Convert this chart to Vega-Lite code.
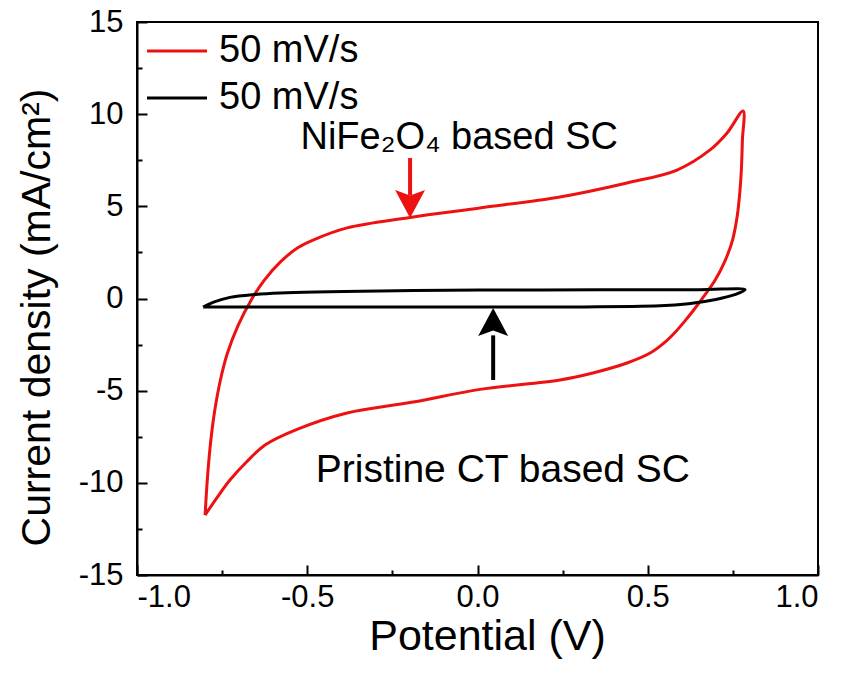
{
  "$schema": "https://vega.github.io/schema/vega-lite/v6.json",
  "width": 681,
  "height": 553,
  "autosize": {"type": "none"},
  "padding": {"left": 137, "top": 22, "right": 23, "bottom": 98},
  "background": "white",
  "config": {
    "view": {"stroke": "black", "strokeWidth": 2},
    "font": "Liberation Sans",
    "axis": {"grid": false, "domainColor": "black", "domainWidth": 2, "tickColor": "black", "tickWidth": 2, "labelColor": "black", "titleColor": "black", "labelFont": "Liberation Sans", "titleFont": "Liberation Sans", "titleFontWeight": "normal"}
  },
  "datasets": {
    "curves": [
      {"series": "NiFe2O4", "i": 1, "v": -0.800, "j": -11.75},
      {"series": "NiFe2O4", "i": 2, "v": -0.796, "j": -10.5},
      {"series": "NiFe2O4", "i": 3, "v": -0.790, "j": -9.0},
      {"series": "NiFe2O4", "i": 4, "v": -0.782, "j": -7.5},
      {"series": "NiFe2O4", "i": 5, "v": -0.771, "j": -6.0},
      {"series": "NiFe2O4", "i": 6, "v": -0.756, "j": -4.5},
      {"series": "NiFe2O4", "i": 7, "v": -0.735, "j": -3.0},
      {"series": "NiFe2O4", "i": 8, "v": -0.704, "j": -1.5},
      {"series": "NiFe2O4", "i": 9, "v": -0.662, "j": 0.0},
      {"series": "NiFe2O4", "i": 10, "v": -0.626, "j": 1.0},
      {"series": "NiFe2O4", "i": 11, "v": -0.578, "j": 2.0},
      {"series": "NiFe2O4", "i": 12, "v": -0.528, "j": 2.75},
      {"series": "NiFe2O4", "i": 13, "v": -0.483, "j": 3.17},
      {"series": "NiFe2O4", "i": 14, "v": -0.383, "j": 3.83},
      {"series": "NiFe2O4", "i": 15, "v": -0.198, "j": 4.40},
      {"series": "NiFe2O4", "i": 16, "v": 0.007, "j": 4.91},
      {"series": "NiFe2O4", "i": 17, "v": 0.242, "j": 5.51},
      {"series": "NiFe2O4", "i": 18, "v": 0.439, "j": 6.27},
      {"series": "NiFe2O4", "i": 19, "v": 0.586, "j": 6.97},
      {"series": "NiFe2O4", "i": 20, "v": 0.683, "j": 8.06},
      {"series": "NiFe2O4", "i": 21, "v": 0.733, "j": 8.98},
      {"series": "NiFe2O4", "i": 22, "v": 0.780, "j": 10.17},
      {"series": "NiFe2O4", "i": 23, "v": 0.778, "j": 8.6},
      {"series": "NiFe2O4", "i": 24, "v": 0.775, "j": 7.0},
      {"series": "NiFe2O4", "i": 25, "v": 0.771, "j": 5.9},
      {"series": "NiFe2O4", "i": 26, "v": 0.763, "j": 4.5},
      {"series": "NiFe2O4", "i": 27, "v": 0.749, "j": 3.17},
      {"series": "NiFe2O4", "i": 28, "v": 0.726, "j": 2.0},
      {"series": "NiFe2O4", "i": 29, "v": 0.698, "j": 1.0},
      {"series": "NiFe2O4", "i": 30, "v": 0.670, "j": 0.25},
      {"series": "NiFe2O4", "i": 31, "v": 0.640, "j": -0.5},
      {"series": "NiFe2O4", "i": 32, "v": 0.610, "j": -1.2},
      {"series": "NiFe2O4", "i": 33, "v": 0.582, "j": -1.8},
      {"series": "NiFe2O4", "i": 34, "v": 0.555, "j": -2.3},
      {"series": "NiFe2O4", "i": 35, "v": 0.507, "j": -2.96},
      {"series": "NiFe2O4", "i": 36, "v": 0.439, "j": -3.50},
      {"series": "NiFe2O4", "i": 37, "v": 0.339, "j": -4.04},
      {"series": "NiFe2O4", "i": 38, "v": 0.242, "j": -4.42},
      {"series": "NiFe2O4", "i": 39, "v": 0.007, "j": -4.93},
      {"series": "NiFe2O4", "i": 40, "v": -0.189, "j": -5.62},
      {"series": "NiFe2O4", "i": 41, "v": -0.383, "j": -6.21},
      {"series": "NiFe2O4", "i": 42, "v": -0.530, "j": -7.10},
      {"series": "NiFe2O4", "i": 43, "v": -0.624, "j": -7.95},
      {"series": "NiFe2O4", "i": 44, "v": -0.680, "j": -8.90},
      {"series": "NiFe2O4", "i": 45, "v": -0.727, "j": -9.85},
      {"series": "NiFe2O4", "i": 46, "v": -0.765, "j": -10.80},
      {"series": "NiFe2O4", "i": 47, "v": -0.800, "j": -11.75},
      {"series": "CT", "i": 1, "v": -0.806, "j": -0.46},
      {"series": "CT", "i": 2, "v": -0.775, "j": -0.20},
      {"series": "CT", "i": 3, "v": -0.727, "j": 0.06},
      {"series": "CT", "i": 4, "v": -0.653, "j": 0.22},
      {"series": "CT", "i": 5, "v": -0.580, "j": 0.30},
      {"series": "CT", "i": 6, "v": -0.286, "j": 0.41},
      {"series": "CT", "i": 7, "v": 0.007, "j": 0.46},
      {"series": "CT", "i": 8, "v": 0.360, "j": 0.47},
      {"series": "CT", "i": 9, "v": 0.653, "j": 0.48},
      {"series": "CT", "i": 10, "v": 0.786, "j": 0.48},
      {"series": "CT", "i": 11, "v": 0.758, "j": 0.22},
      {"series": "CT", "i": 12, "v": 0.700, "j": -0.05},
      {"series": "CT", "i": 13, "v": 0.620, "j": -0.28},
      {"series": "CT", "i": 14, "v": 0.536, "j": -0.40},
      {"series": "CT", "i": 15, "v": 0.242, "j": -0.46},
      {"series": "CT", "i": 16, "v": -0.228, "j": -0.46},
      {"series": "CT", "i": 17, "v": -0.580, "j": -0.46},
      {"series": "CT", "i": 18, "v": -0.806, "j": -0.46}
    ],
    "arrows": [
      {"series": "NiFe2O4", "x": -0.198, "ytop": 7.62, "ybot": 5.6, "tip": 4.37, "dir": "down"},
      {"series": "CT", "x": 0.046, "ytop": -2.0, "ybot": -4.42, "tip": -0.52, "dir": "up"}
    ],
    "labels": [
      {"txt": "NiFe₂O₄ based SC", "x": -0.52, "y": 8.11},
      {"txt": "Pristine CT based SC", "x": -0.475, "y": -9.96}
    ]
  },
  "resolve": {"axis": {"x": "independent", "y": "independent"}},
  "layer": [
    {
      "data": {"name": "curves"},
      "mark": {"type": "line", "strokeWidth": 3, "interpolate": "catmull-rom"},
      "encoding": {
        "x": {"field": "v", "type": "quantitative", "scale": {"domain": [-1, 1], "nice": false, "zero": false},
          "axis": {"orient": "bottom", "values": [-1, -0.5, 0, 0.5, 1], "format": ".1f", "labelExpr": "replace(datum.label, '−', '-')", "ticks": false, "tickSize": 0, "labelFontSize": 31, "labelPadding": 7, "title": "Potential (V)", "titleFontSize": 43, "titlePadding": 3, "titleX": 350}},
        "y": {"field": "j", "type": "quantitative", "scale": {"domain": [-15, 15], "nice": false, "zero": false},
          "axis": {"orient": "left", "values": [-15, -10, -5, 0, 5, 10, 15], "labelExpr": "replace(datum.label, '−', '-')", "ticks": false, "tickSize": 0, "labelFontSize": 31, "labelPadding": 14, "title": "Current density (mA/cm²)", "titleFontSize": 41, "titlePadding": 20, "titleY": 295}},
        "color": {"field": "series", "type": "nominal",
          "scale": {"domain": ["NiFe2O4", "CT"], "range": ["#ee1111", "#000000"]},
          "legend": {"orient": "none", "legendX": 1, "legendY": 10, "title": null, "symbolType": "M-1,0 L5,0", "symbolSize": 400, "symbolStrokeWidth": 3, "symbolFillColor": "transparent", "labelFontSize": 38, "labelFont": "Liberation Sans", "labelColor": "black", "labelOffset": 43, "rowPadding": 9, "labelExpr": "'50 mV/s'"}},
        "detail": {"field": "series"},
        "order": {"field": "i", "type": "quantitative"}
      }
    },
    {
      "data": {"name": "curves"},
      "mark": {"type": "point", "opacity": 0},
      "encoding": {
        "x": {"field": "v", "type": "quantitative",
          "axis": {"orient": "top", "offset": -553, "values": [-1, -0.5, 0, 0.5, 1], "labels": false, "domain": false, "tickSize": 10, "title": null}},
        "y": {"field": "j", "type": "quantitative",
          "axis": {"orient": "right", "offset": -681, "values": [-15, -10, -5, 0, 5, 10, 15], "labels": false, "domain": false, "tickSize": 10, "title": null}}
      }
    },
    {
      "data": {"name": "curves"},
      "mark": {"type": "point", "opacity": 0},
      "encoding": {
        "x": {"field": "v", "type": "quantitative",
          "axis": {"orient": "top", "offset": -553, "values": [-0.75, -0.25, 0.25, 0.75], "labels": false, "domain": false, "tickSize": 5, "title": null}},
        "y": {"field": "j", "type": "quantitative",
          "axis": {"orient": "right", "offset": -681, "values": [-12.5, -7.5, -2.5, 2.5, 7.5, 12.5], "labels": false, "domain": false, "tickSize": 5, "title": null}}
      }
    },
    {
      "data": {"name": "arrows"},
      "mark": {"type": "rule", "strokeWidth": 4},
      "encoding": {
        "x": {"field": "x", "type": "quantitative", "axis": null},
        "y": {"field": "ytop", "type": "quantitative", "axis": null},
        "y2": {"field": "ybot"},
        "color": {"field": "series", "type": "nominal", "legend": null}
      }
    },
    {
      "data": {"name": "arrows"},
      "transform": [{"filter": "datum.dir === 'down'"}],
      "mark": {"type": "point", "filled": true, "opacity": 1, "shape": "M0,0 L-1.07,-2 L0,-1.6 L1.07,-2 Z", "size": 784},
      "encoding": {
        "x": {"field": "x", "type": "quantitative", "axis": null},
        "y": {"field": "tip", "type": "quantitative", "axis": null},
        "color": {"field": "series", "type": "nominal", "legend": null}
      }
    },
    {
      "data": {"name": "arrows"},
      "transform": [{"filter": "datum.dir === 'up'"}],
      "mark": {"type": "point", "filled": true, "opacity": 1, "shape": "M0,0 L-1.07,2 L0,1.6 L1.07,2 Z", "size": 784},
      "encoding": {
        "x": {"field": "x", "type": "quantitative", "axis": null},
        "y": {"field": "tip", "type": "quantitative", "axis": null},
        "color": {"field": "series", "type": "nominal", "legend": null}
      }
    },
    {
      "data": {"name": "labels"},
      "mark": {"type": "text", "align": "left", "baseline": "alphabetic", "font": "Liberation Sans", "color": "black"},
      "encoding": {
        "x": {"field": "x", "type": "quantitative", "axis": null},
        "y": {"field": "y", "type": "quantitative", "axis": null},
        "text": {"field": "txt"},
        "size": {"condition": {"test": "datum.txt === 'Pristine CT based SC'", "value": 39}, "value": 38}
      }
    }
  ]
}
